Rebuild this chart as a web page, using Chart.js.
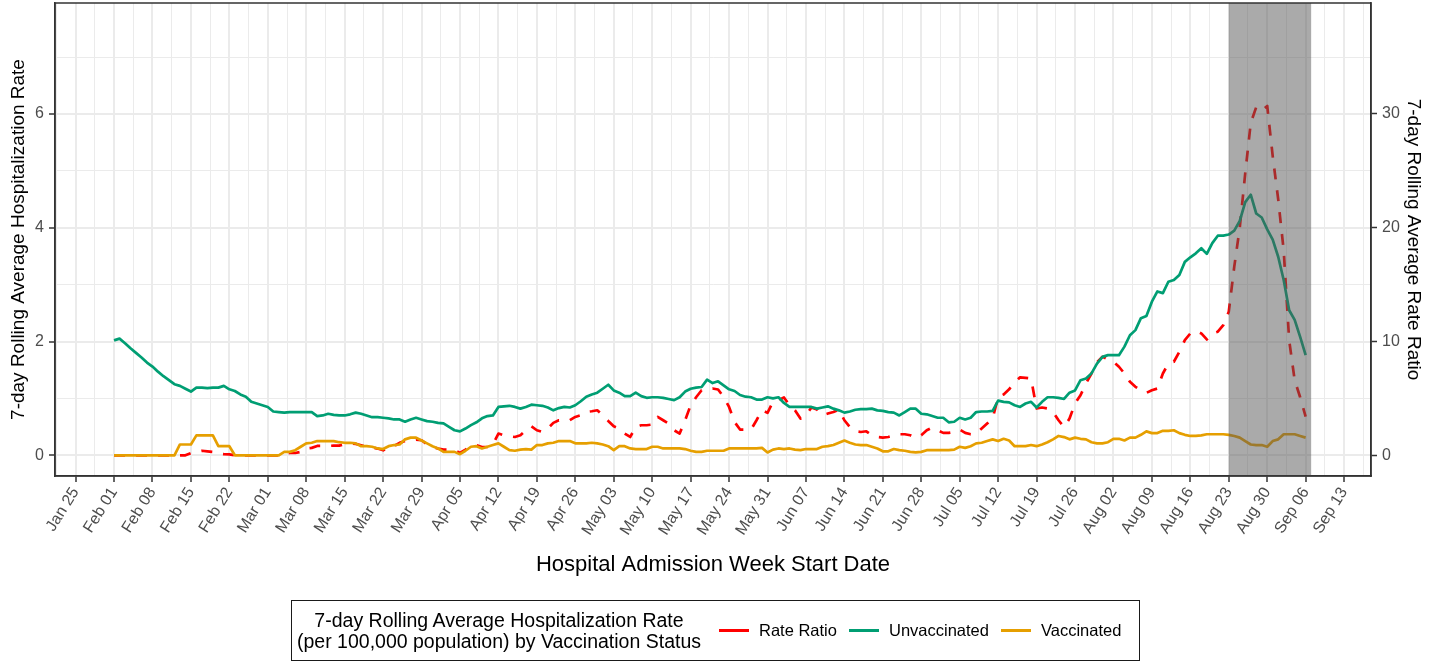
<!DOCTYPE html>
<html>
<head>
<meta charset="utf-8">
<script src="https://cdn.jsdelivr.net/npm/chart.js@4.4.0/dist/chart.umd.min.js"></script>
<style>
  html, body { margin:0; padding:0; background:#ffffff; }
  #wrap { position:relative; width:1442px; height:662px; }
  #c { position:absolute; left:0; top:0; }
  #legend { position:absolute; left:291px; top:600px; width:849px; height:61px; box-sizing:border-box;
            border:1.5px solid #1a1a1a; display:flex; align-items:center;
            font-family:"Liberation Sans", Arial, sans-serif; color:#000; }
  #legend .ltitle { font-size:19.5px; line-height:20.5px; text-align:center; margin-left:5px; margin-right:18px; white-space:nowrap; }
  #legend .item { display:flex; align-items:center; font-size:16.5px; margin-right:12px; white-space:nowrap; }
  #legend .key { display:inline-block; width:30px; height:3px; margin-right:10px; }
</style>
</head>
<body>
<div id="wrap">
  <canvas id="c" width="1442" height="662"></canvas>
  <div id="legend"></div>
</div>
<script>
// ---- data (daily values starting Feb 01; index = days since Feb 01) ----
const weekLabels = ['Jan 25','Feb 01','Feb 08','Feb 15','Feb 22','Mar 01','Mar 08','Mar 15','Mar 22','Mar 29',
  'Apr 05','Apr 12','Apr 19','Apr 26','May 03','May 10','May 17','May 24','May 31','Jun 07','Jun 14','Jun 21',
  'Jun 28','Jul 05','Jul 12','Jul 19','Jul 26','Aug 02','Aug 09','Aug 16','Aug 23','Aug 30','Sep 06','Sep 13'];
const firstWeekOffset = -7;          // Jan 25 relative to Feb 01 (days)
const shadeStartDay = 203;           // Aug 23
const shadeEndDay = 218;             // Sep 07

const unvaccinated = [
  2.02,2.05,1.97,1.88,1.80,1.72,1.63,1.56,1.47,1.39,
  1.32,1.25,1.22,1.17,1.12,1.19,1.19,1.18,1.19,1.19,
  1.22,1.16,1.13,1.07,1.03,0.94,0.91,0.88,0.85,0.77,
  0.76,0.75,0.76,0.76,0.76,0.76,0.76,0.69,0.70,0.73,
  0.71,0.70,0.70,0.72,0.75,0.73,0.70,0.67,0.67,0.66,
  0.65,0.63,0.63,0.59,0.63,0.66,0.63,0.60,0.59,0.57,
  0.56,0.50,0.44,0.42,0.47,0.53,0.58,0.65,0.69,0.70,
  0.85,0.86,0.87,0.85,0.82,0.85,0.89,0.88,0.87,0.84,
  0.79,0.83,0.85,0.84,0.88,0.95,1.03,1.07,1.10,1.17,
  1.24,1.14,1.10,1.04,1.04,1.10,1.04,1.01,1.02,1.02,
  1.01,0.99,0.97,1.02,1.12,1.17,1.19,1.20,1.33,1.27,
  1.30,1.23,1.16,1.13,1.06,1.03,1.02,0.98,0.98,1.02,
  1.00,1.02,0.92,0.85,0.85,0.85,0.85,0.85,0.82,0.84,
  0.86,0.82,0.79,0.75,0.77,0.80,0.81,0.81,0.82,0.79,
  0.78,0.76,0.75,0.70,0.76,0.82,0.82,0.73,0.72,0.69,
  0.66,0.66,0.58,0.59,0.66,0.63,0.66,0.76,0.77,0.77,
  0.78,0.96,0.94,0.93,0.88,0.85,0.91,0.94,0.84,0.94,
  1.02,1.02,1.01,0.99,1.10,1.14,1.32,1.35,1.44,1.61,
  1.73,1.76,1.76,1.76,1.91,2.11,2.20,2.41,2.45,2.70,
  2.88,2.85,3.05,3.08,3.17,3.40,3.48,3.55,3.64,3.54,
  3.73,3.86,3.86,3.88,3.95,4.12,4.45,4.58,4.25,4.18,
  3.97,3.79,3.49,3.08,2.55,2.38,2.08,1.76];

const vaccinated = [
  0,0,0,0,0,0,0,0,0,0,
  0,0,0.19,0.19,0.19,0.35,0.35,0.35,0.35,0.16,
  0.16,0.16,0,0,0,0,0,0,0,0,
  0,0.06,0.06,0.09,0.15,0.21,0.22,0.25,0.25,0.25,
  0.25,0.23,0.22,0.22,0.21,0.16,0.16,0.15,0.12,0.11,
  0.16,0.18,0.19,0.28,0.31,0.31,0.26,0.21,0.16,0.12,
  0.06,0.06,0.06,0.02,0.08,0.15,0.16,0.12,0.15,0.18,
  0.21,0.15,0.09,0.08,0.10,0.11,0.10,0.18,0.18,0.21,
  0.22,0.25,0.25,0.25,0.21,0.21,0.21,0.22,0.21,0.19,
  0.16,0.09,0.16,0.16,0.12,0.11,0.11,0.11,0.15,0.15,
  0.12,0.12,0.12,0.12,0.11,0.08,0.06,0.06,0.08,0.08,
  0.08,0.08,0.12,0.12,0.12,0.12,0.12,0.12,0.13,0.05,
  0.10,0.12,0.11,0.12,0.10,0.09,0.11,0.11,0.11,0.15,
  0.16,0.18,0.22,0.26,0.22,0.19,0.18,0.18,0.15,0.12,
  0.07,0.07,0.11,0.09,0.08,0.06,0.05,0.06,0.09,0.09,
  0.09,0.09,0.09,0.10,0.15,0.13,0.16,0.21,0.22,0.25,
  0.28,0.25,0.29,0.26,0.16,0.16,0.16,0.18,0.16,0.19,
  0.23,0.28,0.34,0.32,0.28,0.31,0.29,0.28,0.23,0.21,
  0.21,0.23,0.29,0.29,0.26,0.31,0.31,0.36,0.42,0.39,
  0.39,0.43,0.43,0.44,0.39,0.36,0.34,0.34,0.35,0.37,
  0.37,0.37,0.37,0.36,0.34,0.31,0.25,0.19,0.18,0.18,
  0.15,0.25,0.28,0.37,0.37,0.37,0.34,0.31];

const rateRatio = [
  0,0,0,0,0,0,0,0,0,0,
  0,0,0,0,0.2,0.3,0.4,0.35,0.3,0.15,
  0.1,0.08,0,0,0,0,0,0,0,0,
  0,0.15,0.2,0.2,0.3,0.6,0.65,0.82,0.82,0.82,
  0.85,0.85,0.97,1.03,1.0,0.88,0.73,0.7,0.59,0.44,
  0.73,0.82,1.09,1.26,1.26,1.38,1.32,0.97,0.73,0.59,
  0.5,0.5,0.44,0.21,0.5,0.82,0.88,0.73,0.73,0.97,
  1.91,1.76,1.67,1.61,1.76,2.2,2.55,2.2,2.05,2.35,
  2.85,3.08,3.02,3.08,3.37,3.52,3.81,3.87,3.96,3.52,
  3.02,2.55,2.35,1.91,1.61,2.49,2.64,2.64,2.7,3.37,
  3.08,2.79,2.2,1.91,3.08,4.4,5.1,5.72,5.78,5.87,
  5.78,5.13,4.25,2.93,2.26,2.26,2.26,3.08,3.96,3.73,
  4.7,4.84,5.08,4.4,3.96,3.23,3.52,4.2,4.02,3.52,
  3.67,3.81,4.02,3.08,2.49,2.11,2.05,2.11,1.76,1.61,
  1.56,1.61,1.76,1.85,1.85,1.76,1.53,1.76,2.2,2.44,
  2.2,1.97,1.97,2.05,2.26,1.97,1.85,1.91,2.35,2.79,
  3.23,5.13,5.35,5.8,6.4,6.85,6.81,6.75,4.11,4.2,
  4.11,3.81,3.08,2.49,3.23,4.55,5.28,6.31,7.19,8.16,
  8.66,8.42,8.22,7.78,7.19,6.46,6.02,5.72,5.49,5.72,
  5.87,7.19,8.07,8.22,9.1,10.12,10.71,10.94,10.71,10.18,
  10.71,10.86,11.44,12.62,16.58,20.0,24.8,29.2,30.6,30.3,
  30.7,26.3,22.5,18.0,10.1,6.6,5.1,3.4];

const leftTicks = [0,1,2,3,4,5,6,7];
const rightTicks = [0,10,20,30];
const seriesNames = ['Rate Ratio','Unvaccinated','Vaccinated'];
const legendTitle = ['7-day Rolling Average Hospitalization Rate','(per 100,000 population) by Vaccination Status'];

// ---- styles ----
const FONT = '"Liberation Sans", Arial, sans-serif';
const seriesColors = { 'Rate Ratio':'#FF0000', 'Unvaccinated':'#009E73', 'Vaccinated':'#E69F00' };
const toPoints = arr => arr.map((v, i) => ({ x: i, y: v }));
const isMajorX = v => Number.isInteger((v - firstWeekOffset) / 7);
const zeroPad = s => { s.paddingTop = 0; s.paddingBottom = 0; s.paddingLeft = 0; s.paddingRight = 0; };

const panelPlugin = {
  id: 'panel',
  afterDatasetsDraw(chart) {
    const { ctx, chartArea: a, scales: { x } } = chart;
    const x0 = x.getPixelForValue(shadeStartDay), x1 = x.getPixelForValue(shadeEndDay);
    ctx.save();
    ctx.fillStyle = 'rgba(85,85,85,0.5)';
    ctx.fillRect(x0, a.top, x1 - x0, a.bottom - a.top);
    ctx.restore();
  },
  afterDraw(chart) {
    const { ctx, chartArea: a } = chart;
    ctx.save();
    ctx.strokeStyle = '#333333';
    ctx.lineWidth = 1.5;
    ctx.strokeRect(a.left, a.top, a.right - a.left, a.bottom - a.top);
    ctx.restore();
  }
};

const lineBase = { pointRadius: 0, borderWidth: 2.7, tension: 0, borderJoinStyle: 'round', borderCapStyle: 'butt', fill: false };

const chart = new Chart(document.getElementById('c'), {
  type: 'line',
  data: {
    datasets: [
      Object.assign({}, lineBase, { label: seriesNames[2], data: toPoints(vaccinated), borderColor: seriesColors['Vaccinated'], yAxisID: 'y', order: 1 }),
      Object.assign({}, lineBase, { label: seriesNames[1], data: toPoints(unvaccinated), borderColor: seriesColors['Unvaccinated'], yAxisID: 'y', order: 2 }),
      Object.assign({}, lineBase, { label: seriesNames[0], data: toPoints(rateRatio), borderColor: seriesColors['Rate Ratio'], borderDash: [11, 11], yAxisID: 'y2', order: 3 })
    ]
  },
  options: {
    responsive: false,
    animation: false,
    layout: { padding: { top: 3, left: 0, right: 0, bottom: 0 } },
    plugins: { legend: { display: false }, tooltip: { enabled: false } },
    scales: {
      x: {
        type: 'linear', position: 'bottom', min: -10.75, max: 228.9,
        afterBuildTicks: s => { const t = []; for (let v = firstWeekOffset - 3.5; v <= s.max; v += 3.5) t.push({ value: v }); s.ticks = t; },
        afterFit: s => { s.height = 186; zeroPad(s); },
        ticks: {
          autoSkip: false, minRotation: 58, maxRotation: 58, padding: 2, color: '#4d4d4d',
          font: { family: FONT, size: 16 },
          callback: v => isMajorX(v) ? weekLabels[(v - firstWeekOffset) / 7] : ''
        },
        grid: {
          color: '#ebebeb', lineWidth: c => (c.tick && isMajorX(c.tick.value)) ? 2 : 1,
          tickLength: 6, tickWidth: 1.5,
          tickColor: c => (c.tick && isMajorX(c.tick.value)) ? '#333333' : 'rgba(0,0,0,0)'
        },
        border: { display: true, color: '#333333', width: 1.5 },
        title: { display: true, text: 'Hospital Admission Week Start Date', color: '#000', font: { family: FONT, size: 22 }, padding: { top: 0, bottom: 84 } }
      },
      y: {
        type: 'linear', position: 'left', min: -0.364, max: 7.95,
        afterBuildTicks: s => { s.ticks = leftTicks.map(v => ({ value: v })); },
        afterFit: s => { s.width = 55; zeroPad(s); },
        ticks: { padding: 5, color: '#4d4d4d', font: { family: FONT, size: 16 }, callback: v => (v % 2 === 0 ? String(v) : '') },
        grid: {
          color: '#ebebeb', lineWidth: c => (c.tick && c.tick.value % 2 === 0) ? 2 : 1,
          tickLength: 6, tickWidth: 1.5,
          tickColor: c => (c.tick && c.tick.value % 2 === 0) ? '#333333' : 'rgba(0,0,0,0)'
        },
        border: { display: true, color: '#333333', width: 1.5 },
        title: { display: true, text: '7-day Rolling Average Hospitalization Rate', color: '#000', font: { family: FONT, size: 19 }, padding: { top: 7, bottom: 0 } }
      },
      y2: {
        type: 'linear', position: 'right', min: -1.82, max: 39.75,
        afterBuildTicks: s => { s.ticks = rightTicks.map(v => ({ value: v })); },
        afterFit: s => { s.width = 71; zeroPad(s); },
        ticks: { padding: 5, color: '#4d4d4d', font: { family: FONT, size: 16 } },
        grid: { drawOnChartArea: false, tickLength: 6, tickWidth: 1.5, tickColor: '#333333' },
        border: { display: true, color: '#333333', width: 1.5 },
        title: { display: true, text: '7-day Rolling Average Rate Ratio', color: '#000', font: { family: FONT, size: 19 }, padding: { top: 17, bottom: 0 } }
      }
    }
  },
  plugins: [panelPlugin]
});

// ---- legend (built from series names / colours) ----
const lg = document.getElementById('legend');
const t = document.createElement('div');
t.className = 'ltitle';
t.innerHTML = legendTitle.join('<br>');
lg.appendChild(t);
seriesNames.forEach(name => {
  const it = document.createElement('div'); it.className = 'item';
  const k = document.createElement('span'); k.className = 'key'; k.style.background = seriesColors[name];
  const s = document.createElement('span'); s.textContent = name;
  it.appendChild(k); it.appendChild(s); lg.appendChild(it);
});
</script>
</body>
</html>
